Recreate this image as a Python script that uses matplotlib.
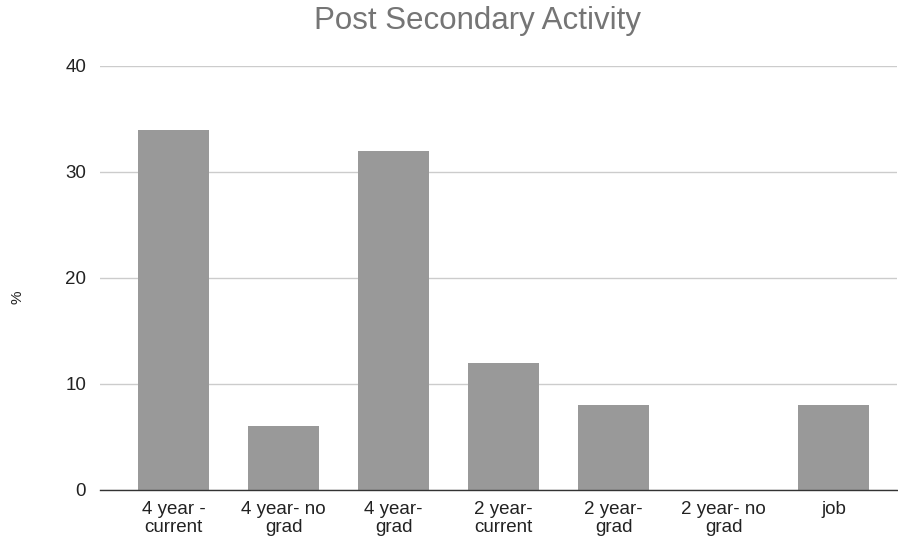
import matplotlib
matplotlib.use("Agg")
import matplotlib.pyplot as plt

categories = ["4 year -\ncurrent", "4 year- no\ngrad", "4 year-\ngrad", "2 year-\ncurrent",
              "2 year-\ngrad", "2 year- no\ngrad", "job"]
percent = [34, 6, 32, 12, 8, 0, 8]
yticks = [0, 10, 20, 30, 40]

plt.rcParams["font.family"] = ["Liberation Sans", "DejaVu Sans"]

fig = plt.figure(figsize=(8.98, 5.42), dpi=100)
ax = fig.add_axes([100 / 898, 1 - 490 / 542, 797 / 898, 424 / 542])

x = list(range(len(categories)))
ax.bar(x, percent, width=0.645, color="#999999", zorder=2)

ax.set_ylim(0, 40)
ax.set_xlim(-0.67, 6.575)
ax.set_yticks(yticks)
ax.set_xticks(x)
ax.set_xticklabels(categories, fontsize=13.5, color="#222222", linespacing=1.08)
ax.tick_params(axis="y", labelsize=13.5, labelcolor="#222222", length=0, pad=10)
ax.tick_params(axis="x", length=0, pad=8)
ax.grid(axis="y", color="#cccccc", linewidth=1, zorder=0)
for side in ["top", "right", "left"]:
    ax.spines[side].set_visible(False)
ax.spines["bottom"].set_color("#333333")
ax.spines["bottom"].set_linewidth(1)
ax.spines["bottom"].set_zorder(3)

fig.text(18 / 898, 1 - 297 / 542, "%", rotation=90, ha="center", va="center",
         fontsize=11, color="#222222")
fig.text(477 / 898, 1 - 21 / 542, "Post Secondary Activity", ha="center", va="center",
         fontsize=22.5, color="#757575")

fig.savefig("out.png", dpi=100)
